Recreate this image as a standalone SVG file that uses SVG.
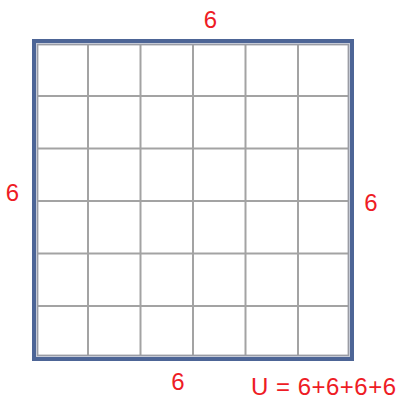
<svg xmlns="http://www.w3.org/2000/svg" width="401" height="399" viewBox="0 0 401 399">
<style>
.lbl{font-family:"Liberation Sans","DejaVu Sans",sans-serif;font-size:24px;fill:#ee1c25;text-anchor:middle}
.grid line{stroke:#a3a3a3;stroke-width:2}
</style>
<rect width="401" height="399" fill="#ffffff"/>
<g id="square">
<g class="grid">
<line x1="88" y1="43" x2="88" y2="357"/>
<line x1="140.5" y1="43" x2="140.5" y2="357"/>
<line x1="193" y1="43" x2="193" y2="357"/>
<line x1="245.5" y1="43" x2="245.5" y2="357"/>
<line x1="298" y1="43" x2="298" y2="357"/>
<line x1="36" y1="96" x2="350" y2="96"/>
<line x1="36" y1="148.5" x2="350" y2="148.5"/>
<line x1="36" y1="201" x2="350" y2="201"/>
<line x1="36" y1="253.5" x2="350" y2="253.5"/>
<line x1="36" y1="306" x2="350" y2="306"/>
</g>
<rect x="34" y="41" width="318" height="318" fill="none" stroke="#4d6596" stroke-width="4"/>
<rect x="36.5" y="43.5" width="313" height="313" fill="none" stroke="#c5cad6" stroke-width="1"/>
<rect x="37.7" y="44.7" width="310.6" height="310.6" fill="none" stroke="#9a9ca4" stroke-width="1.4"/>
</g>
<g id="labels">
<text class="lbl" x="210.5" y="28">6</text>
<text class="lbl" x="12.5" y="201">6</text>
<text class="lbl" x="371" y="211">6</text>
<text class="lbl" x="178" y="390">6</text>
<text class="lbl" x="251" y="395" style="text-anchor:start" textLength="145" lengthAdjust="spacing">U = 6+6+6+6</text>
</g>
</svg>
